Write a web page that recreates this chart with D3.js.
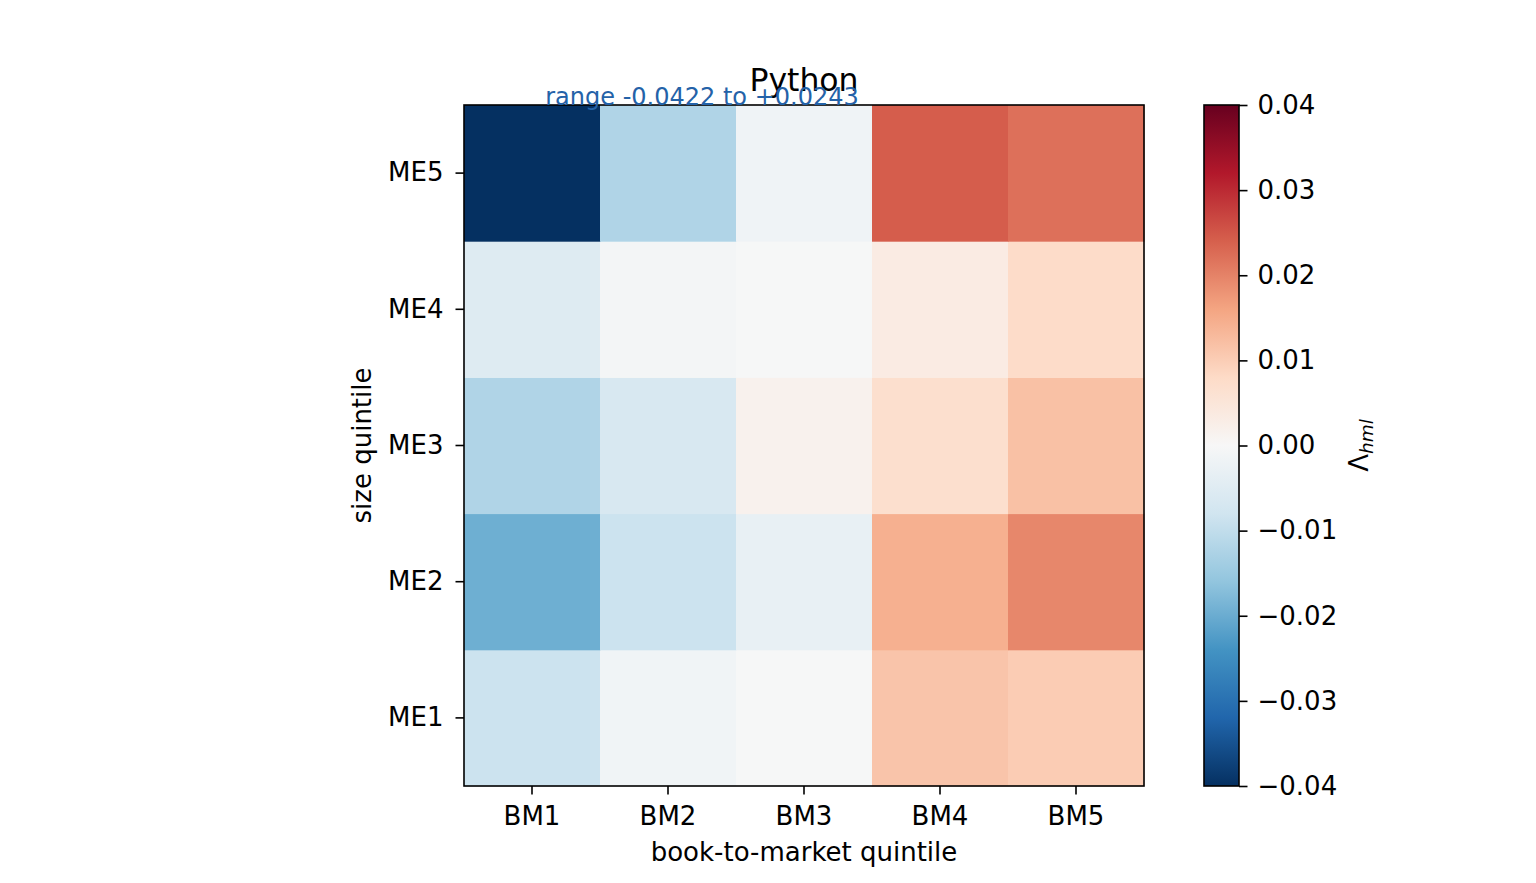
<!DOCTYPE html>
<html>
<head>
<meta charset="utf-8">
<script src="https://cdn.jsdelivr.net/npm/d3@7"></script>
<style>
  body { margin: 0; background: #fff; }
  text { font-family: "DejaVu Sans", sans-serif; }
</style>
</head>
<body>
<script>
// Categories and values
const bmLabels = ["BM1", "BM2", "BM3", "BM4", "BM5"];
const meLabels = ["ME1", "ME2", "ME3", "ME4", "ME5"];
// rows ME1..ME5, columns BM1..BM5
const lambdaME1 = [-0.0086, -0.0015, -0.0002, 0.0114, 0.0102];
const lambdaME2 = [-0.0196, -0.0086, -0.0032, 0.0144, 0.0195];
const lambdaME3 = [-0.0122, -0.0065, 0.0017, 0.0069, 0.0119];
const lambdaME4 = [-0.0053, -0.0008, -0.0002, 0.0034, 0.0077];
const lambdaME5 = [-0.0422, -0.0122, -0.0017, 0.0243, 0.0221];
const cbarTicks = [-0.04, -0.03, -0.02, -0.01, 0.00, 0.01, 0.02, 0.03, 0.04];
// RdBu_r colour stops (ColorBrewer, 11 classes, low to high)
const rdbuR = ["#053061", "#2166ac", "#4393c3", "#92c5de", "#d1e5f0", "#f7f7f7",
               "#fddbc7", "#f4a582", "#d6604d", "#b2182b", "#67001f"];

const rows = [lambdaME1, lambdaME2, lambdaME3, lambdaME4, lambdaME5];
const cells = [];
rows.forEach((r, i) => r.forEach((v, j) => cells.push({ me: meLabels[i], bm: bmLabels[j], v })));

const width = 1536, height = 883;
const mLeft = 464, mRight = 1144, mTop = 105, mBottom = 786;

const svg = d3.select("body").append("svg")
    .attr("width", width)
    .attr("height", height);

const color = d3.scaleLinear()
    .domain(d3.range(11).map(i => -0.04 + 0.008 * i))
    .range(rdbuR)
    .clamp(true);

const x = d3.scaleBand().domain(bmLabels).range([mLeft, mRight]);
const y = d3.scaleBand().domain(meLabels.slice().reverse()).range([mTop, mBottom]);

svg.append("g")
    .selectAll("rect")
    .data(cells)
    .join("rect")
    .attr("x", d => x(d.bm))
    .attr("y", d => y(d.me))
    .attr("width", x.bandwidth() + 0.5)
    .attr("height", y.bandwidth() + 0.5)
    .attr("fill", d => color(d.v));

svg.append("rect")
    .attr("x", mLeft).attr("y", mTop)
    .attr("width", mRight - mLeft).attr("height", mBottom - mTop)
    .attr("fill", "none").attr("stroke", "#000").attr("stroke-width", 1.6);

const fs = 26;

const xAxis = svg.append("g")
    .attr("transform", `translate(0,${mBottom})`)
    .call(d3.axisBottom(x).tickSize(8.5).tickPadding(12));
const yAxis = svg.append("g")
    .attr("transform", `translate(${mLeft},0)`)
    .call(d3.axisLeft(y).tickSize(8.5).tickPadding(12));
[xAxis, yAxis].forEach(a => {
    a.select(".domain").remove();
    a.selectAll("text").attr("font-size", fs).attr("font-family", "DejaVu Sans").attr("fill", "#000");
    a.selectAll("line").attr("stroke", "#000").attr("stroke-width", 1.6);
});

svg.append("text")
    .attr("x", (mLeft + mRight) / 2).attr("y", 861)
    .attr("text-anchor", "middle").attr("font-size", fs)
    .text("book-to-market quintile");

svg.append("text")
    .attr("transform", `translate(371,${(mTop + mBottom) / 2}) rotate(-90)`)
    .attr("text-anchor", "middle").attr("font-size", fs)
    .text("size quintile");

svg.append("text")
    .attr("x", (mLeft + mRight) / 2).attr("y", 90.5)
    .attr("text-anchor", "middle").attr("font-size", 31.5)
    .text("Python");

svg.append("text")
    .attr("x", mLeft + 0.35 * (mRight - mLeft)).attr("y", 105)
    .attr("text-anchor", "middle").attr("font-size", 24)
    .attr("fill", "#2462a8")
    .text("range -0.0422 to +0.0243");

// Colorbar
const cbL = 1204, cbR = 1239;
const cy = d3.scaleLinear().domain([-0.04, 0.04]).range([mBottom, mTop]);
const defs = svg.append("defs");
const grad = defs.append("linearGradient")
    .attr("id", "cbar").attr("x1", 0).attr("y1", 1).attr("x2", 0).attr("y2", 0);
rdbuR.forEach((c, i) => {
    grad.append("stop").attr("offset", i / (rdbuR.length - 1)).attr("stop-color", c);
});
svg.append("rect")
    .attr("x", cbL).attr("y", mTop)
    .attr("width", cbR - cbL).attr("height", mBottom - mTop)
    .attr("fill", "url(#cbar)")
    .attr("stroke", "#000").attr("stroke-width", 1.6);

const cAxis = svg.append("g")
    .attr("transform", `translate(${cbR},0)`)
    .call(d3.axisRight(cy).tickValues(cbarTicks).tickSize(8.5).tickPadding(10)
        .tickFormat(d => (d < 0 ? "\u2212" : "") + Math.abs(d).toFixed(2)));
cAxis.select(".domain").remove();
cAxis.selectAll("text").attr("font-size", fs).attr("font-family", "DejaVu Sans").attr("fill", "#000");
cAxis.selectAll("line").attr("stroke", "#000").attr("stroke-width", 1.6);

const lab = svg.append("text")
    .attr("transform", `translate(1368,${(mTop + mBottom) / 2}) rotate(-90)`)
    .attr("text-anchor", "middle").attr("font-size", fs);
lab.append("tspan").text("\u039B");
lab.append("tspan").attr("font-size", 18.5).attr("font-style", "italic").attr("dy", 5).text("hml");
</script>
</body>
</html>
